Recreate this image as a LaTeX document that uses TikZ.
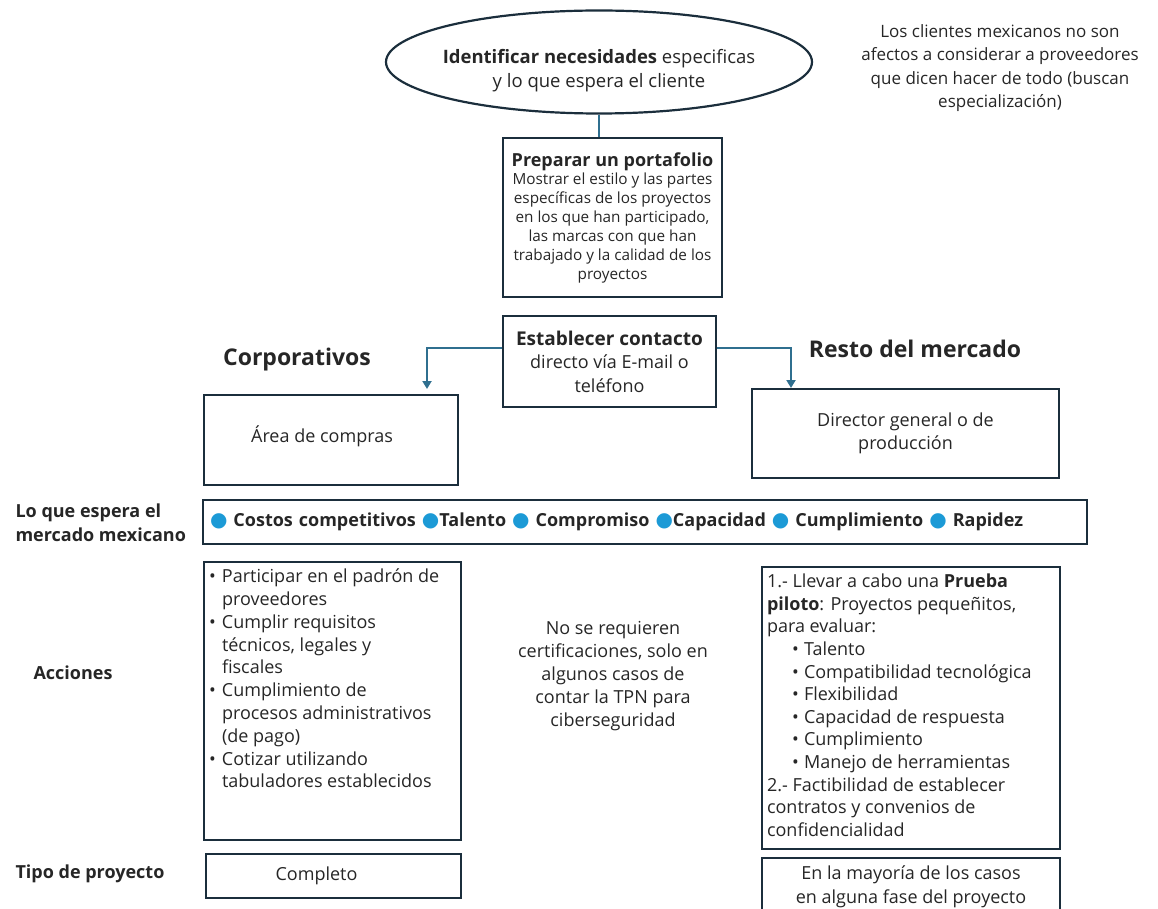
\documentclass[tikz,border=0pt]{standalone}
\usepackage{fontspec}
\setmainfont{Open Sans}
\newfontfamily\dotfont{DejaVu Sans}
\usetikzlibrary{arrows.meta, shapes.geometric, positioning}
\definecolor{boxnavy}{HTML}{1B2E3C}
\definecolor{linkblue}{HTML}{2F6F8F}
\definecolor{dotblue}{HTML}{1C9AD6}
\definecolor{txtgray}{HTML}{262626}
\newcommand{\bdot}{{\dotfont\fontsize{20}{20}\selectfont\textcolor{dotblue}{●}}}
\newcommand{\itm}{\makebox[13pt][l]{\textbullet}}
\newcommand{\cnt}{\hspace*{13pt}}
\newcommand{\subit}{\hspace*{25pt}\makebox[12pt][l]{\textbullet}}

\begin{document}
\begin{tikzpicture}[x=1pt,y=-1pt,>={Triangle[width=9pt,length=8pt]},
  every node/.style={text=txtgray,font=\fontsize{18}{23.5}\selectfont},
  box/.style={draw=boxnavy,line width=2.2pt,align=center,inner sep=4pt},
  link/.style={draw=linkblue,line width=2pt},
  side/.style={font=\fontsize{18}{24}\bfseries\selectfont,align=left,anchor=west},
  heading/.style={font=\fontsize{23}{26}\bfseries\selectfont}]

 \useasboundingbox (0,0) rectangle (1158,909);

 % top of the flow
 \node[box,ellipse,minimum width=426pt,minimum height=103pt,inner xsep=-8pt,inner ysep=0pt,
       font=\fontsize{18.5}{24}\selectfont] (need) at (599,62)
   {\rule{0pt}{32pt}\textbf{Identificar necesidades} especificas\\y lo que espera el cliente};
 \node[align=center,font=\fontsize{17}{23.5}\selectfont] (note) at (1000,68)
   {Los clientes mexicanos no son\\afectos a considerar a proveedores\\que dicen hacer de todo (buscan\\especialización)};
 \node[box,minimum width=219pt,minimum height=159pt,font=\fontsize{15.3}{19}\selectfont] (port) at (612.5,217.5)
   {{\fontsize{18}{20}\bfseries\selectfont Preparar un portafolio}\\[-1pt]
    Mostrar el estilo y las partes\\específicas de los proyectos\\en los que han participado,\\las marcas con que han\\trabajado y la calidad de los\\proyectos};
 \node[box,minimum width=213pt,minimum height=91pt] (contact) at (609.5,361.5)
   {{\fontsize{19}{20}\bfseries\selectfont Establecer contacto}\\directo vía E-mail o\\teléfono};

 % two markets
 \node[heading] (corp) at (297,360) {Corporativos};
 \node[heading] (rest) at (915,349) {Resto del mercado};
 \node[box,minimum width=254pt,minimum height=90pt] (buy) at (331,440)
   {\rule[-12pt]{0pt}{0pt}Área de compras\hspace*{18pt}};
 \node[box,minimum width=307pt,minimum height=89pt] (boss) at (905.5,433.5)
   {Director general o de\\producción};
 \coordinate (buyin) at (427,389);
 \coordinate (bossin) at (791,388);

 \draw[link,->] ([yshift=13.5pt]contact.west) -| (buyin);
 \draw[link,->] ([yshift=13.5pt]contact.east) -| (bossin);
 \draw[link] (need.south) -- (need.south |- port.north);

 % what the market expects
 \node[side] (expectlbl) at (12,523) {Lo que espera el\\mercado mexicano};
 \node[box,minimum width=884pt,minimum height=44pt,text width=870pt,align=left,
       font=\fontsize{18}{20}\selectfont] (expect) at (645,522)
   {\bfseries \bdot\ Costos competitivos \bdot Talento \bdot\ Compromiso \bdot Capacidad \bdot\ Cumplimiento \bdot\ Rapidez};

 % actions
 \node[side] (actlbl) at (30,673) {Acciones};
 \node[box,inner sep=5pt] (actcorp) at (332.5,701)
   {\parbox[c][268pt][t]{247pt}{\raggedright\fontsize{18}{22.8}\selectfont\vspace*{2pt}%
    \itm Participar en el padrón de\\\cnt proveedores\\
    \itm Cumplir requisitos\\\cnt técnicos, legales y\\\cnt fiscales\\
    \itm Cumplimiento de\\\cnt procesos administrativos\\\cnt (de pago)\\
    \itm Cotizar utilizando\\\cnt tabuladores establecidos}};
 \node[align=center,font=\fontsize{18}{22.8}\selectfont] (nocert) at (613,676)
   {No se requieren\\certificaciones, solo en\\algunos casos de\\contar la TPN para\\ciberseguridad};
 \node[box,inner sep=5pt] (actrest) at (911,708)
   {\parbox[c][272pt][t]{288pt}{\raggedright\fontsize{18}{22.6}\selectfont\vspace*{2pt}%
    1.- Llevar a cabo una \textbf{Prueba}\\\textbf{piloto}: Proyectos pequeñitos,\\para evaluar:\\
    \subit Talento\\\subit Compatibilidad tecnológica\\\subit Flexibilidad\\
    \subit Capacidad de respuesta\\\subit Cumplimiento\\\subit Manejo de herramientas\\
    2.- Factibilidad de establecer\\contratos y convenios de\\confidencialidad}};

 % project type
 \node[side] (typelbl) at (12,874) {Tipo de proyecto};
 \node[box,minimum width=255pt,minimum height=44pt] (full) at (333.5,876)
   {Completo\hspace*{34pt}};
 \node[box,minimum width=298pt,minimum height=58pt] (phase) at (911,887)
   {En la mayoría de los casos\\en alguna fase del proyecto};
\end{tikzpicture}
\end{document}
